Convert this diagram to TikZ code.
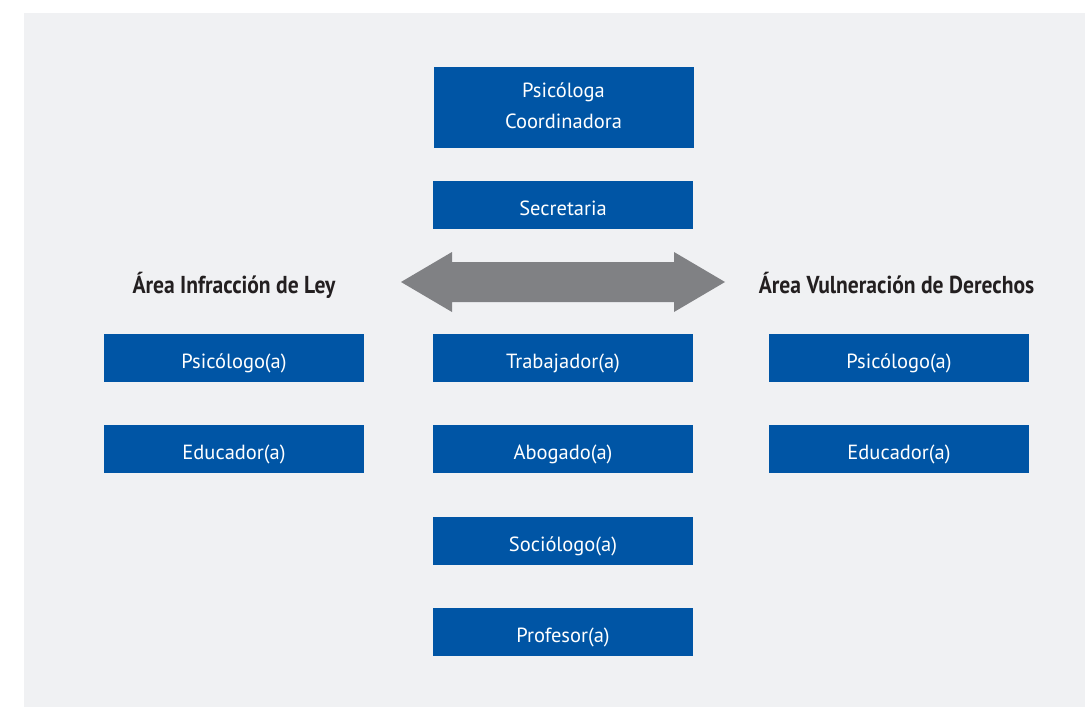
\documentclass[tikz,border=0pt]{standalone}
\usepackage{fontspec}
\setmainfont{PT Sans}
\newfontfamily\headfont{PT Sans}[FakeStretch=0.88]
\begin{document}
\begin{tikzpicture}[x=1pt,y=-1pt,
  rolebox/.style={rectangle,fill=roleblue,draw=none,text=white,
    minimum width=260pt,minimum height=48.5pt,inner sep=0pt,
    text height=22pt,text depth=2pt,
    font=\fontsize{20.5}{31}\selectfont,align=center},
  areatitle/.style={text=headink,inner sep=0pt,anchor=base,
    font=\headfont\bfseries\fontsize{24.5}{28}\selectfont}]
\definecolor{panelgray}{HTML}{F0F1F3}
\definecolor{roleblue}{HTML}{0055A5}
\definecolor{arrowgray}{HTML}{808184}
\definecolor{headink}{HTML}{231F20}
\useasboundingbox (0,0) rectangle (1085,707);
\fill[white] (0,0) rectangle (1085,707);
\fill[panelgray] (24,13) rectangle (1085,707);

% central column
\node[rolebox,minimum height=81pt,text height=43pt,text depth=2pt]
  (coord) at (563.5,107.5) {Psicóloga\\Coordinadora};
\node[rolebox] (secr) at (563,205) {Secretaria};
\node[rolebox] (trab) at (563,358) {Trabajador(a)};
\node[rolebox] (abog) at (563,449) {Abogado(a)};
\node[rolebox] (soci) at (563,541) {Sociólogo(a)};
\node[rolebox] (prof) at (563,632) {Profesor(a)};

% left area
\node[areatitle] (leftarea) at (234,293) {Área Infracción de Ley};
\node[rolebox] (lpsi) at (234,358) {Psicólogo(a)};
\node[rolebox] (ledu) at (234,449) {Educador(a)};

% right area
\node[areatitle] (rightarea) at (896.5,293) {Área Vulneración de Derechos};
\node[rolebox] (rpsi) at (899,358) {Psicólogo(a)};
\node[rolebox] (redu) at (899,449) {Educador(a)};

% double-headed arrow between the two areas
\fill[arrowgray] (401,282) -- (452,252) -- (452,262) -- (674,262) -- (674,252)
  -- (725,282) -- (674,312) -- (674,302) -- (452,302) -- (452,312) -- cycle;
\end{tikzpicture}
\end{document}
